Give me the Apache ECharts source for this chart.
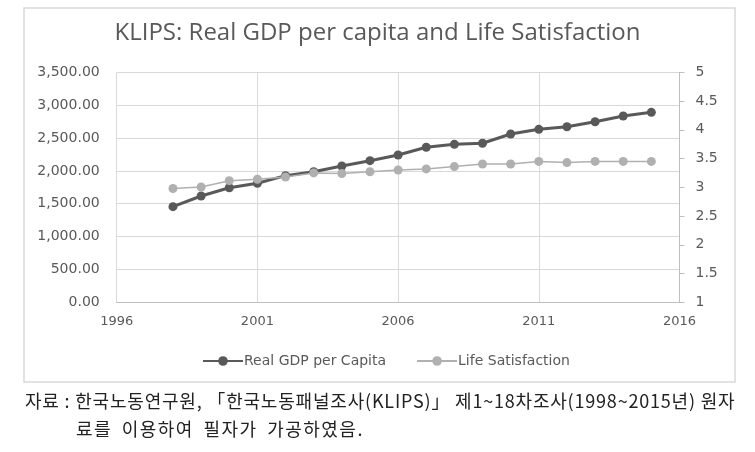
<!DOCTYPE html>
<html>
<head>
<meta charset="utf-8">
<script src="https://cdn.jsdelivr.net/npm/echarts@6/dist/echarts.min.js"></script>
<style>
html,body{margin:0;padding:0;background:#fff;}
#wrap{position:relative;width:755px;height:452px;overflow:hidden;}
#chart{position:absolute;left:0;top:0;width:755px;height:452px;}
.cap{position:absolute;font-family:'Noto Sans CJK KR';font-size:18px;color:#222;white-space:nowrap;line-height:20px;}
#cap1{left:25px;top:390px;letter-spacing:0.8px;}
#cap2{left:76px;top:418px;letter-spacing:1.5px;word-spacing:4px;}
</style>
</head>
<body>
<div id="wrap">
<div id="chart"></div>
<div class="cap" id="cap1"></div>
<div class="cap" id="cap2"></div>
</div>
<script>
const titleText = 'KLIPS: Real GDP per capita and Life Satisfaction';
const years = [1998,1999,2000,2001,2002,2003,2004,2005,2006,2007,2008,2009,2010,2011,2012,2013,2014,2015];
const gdpPerCapita = [1455,1618,1744,1811,1927,1987,2074,2155,2241,2359,2404,2420,2561,2632,2672,2748,2835,2891];
const lifeSatisfaction = [2.98,3.005,3.115,3.14,3.18,3.25,3.24,3.27,3.30,3.32,3.36,3.405,3.405,3.45,3.43,3.45,3.45,3.45];
const seriesNames = ['Real GDP per Capita','Life Satisfaction'];
const captionLine1 = '자료 : 한국노동연구원, 「한국노동패널조사(KLIPS)」 제1~18차조사(1998~2015년) 원자';
const captionLine2 = '료를 이용하여 필자가 가공하였음.';

document.getElementById('cap1').textContent = captionLine1;
document.getElementById('cap2').textContent = captionLine2;

const chart = echarts.init(document.getElementById('chart'), null, {renderer:'canvas'});
const axisFont = 'DejaVu Sans';
const labelColor = '#595959';
const gridColor = '#d9d9d9';

chart.setOption({
  animation:false,
  backgroundColor:'transparent',
  title:{
    text:titleText,
    left:'center',
    top:21,
    padding:0,
    textStyle:{fontFamily:'Open Sans',fontSize:24,fontWeight:'normal',color:'#595959'}
  },
  legend:{
    left:197,
    top:349,
    itemWidth:40,
    itemHeight:12,
    itemGap:30,
    textStyle:{fontFamily:axisFont,fontSize:14,color:labelColor,padding:[0,0,0,-4]},
    data:seriesNames
  },
  grid:{left:116.7,right:75.5,top:72.3,bottom:149.7,containLabel:false},
  xAxis:{
    type:'value',min:1996,max:2016,interval:5,
    axisLine:{show:true,lineStyle:{color:'#bfbfbf',width:1}},
    axisTick:{show:false},
    splitLine:{show:true,lineStyle:{color:gridColor,width:1}},
    axisLabel:{color:labelColor,fontFamily:axisFont,fontSize:13,margin:13,formatter:v=>String(v)}
  },
  yAxis:[{
    type:'value',min:0,max:3500,interval:500,
    axisLine:{show:false},
    axisTick:{show:false},
    splitLine:{show:true,lineStyle:{color:gridColor,width:1}},
    axisLabel:{color:labelColor,fontFamily:axisFont,fontSize:14,margin:17,
      formatter:v=>v.toLocaleString('en-US',{minimumFractionDigits:2,maximumFractionDigits:2})}
  },{
    type:'value',min:1,max:5,interval:0.5,position:'right',
    axisLine:{show:true,lineStyle:{color:'#bfbfbf',width:1}},
    axisTick:{show:true,inside:false,length:5,lineStyle:{color:'#bfbfbf'}},
    splitLine:{show:false},
    axisLabel:{color:labelColor,fontFamily:axisFont,fontSize:14,margin:16,formatter:v=>String(v)}
  }],
  series:[{
    name:seriesNames[0],type:'line',yAxisIndex:0,
    data:years.map((y,i)=>[y,gdpPerCapita[i]]),
    symbol:'circle',symbolSize:9,
    itemStyle:{color:'#595959'},
    lineStyle:{color:'#595959',width:3}
  },{
    name:seriesNames[1],type:'line',yAxisIndex:1,
    data:years.map((y,i)=>[y,lifeSatisfaction[i]]),
    symbol:'circle',symbolSize:9,
    itemStyle:{color:'#b0b0b0'},
    lineStyle:{color:'#b0b0b0',width:1.5}
  }],
  graphic:[{
    type:'rect',silent:true,z:-10,
    shape:{x:24,y:8,width:711,height:374},
    style:{fill:'#ffffff',stroke:'#d9d9d9',lineWidth:1.5}
  }]
});
</script>
</body>
</html>
